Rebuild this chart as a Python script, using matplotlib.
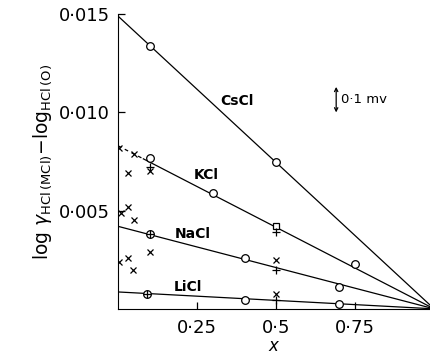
import numpy as np
import matplotlib
matplotlib.use("Agg")
import matplotlib.pyplot as plt

# fitted lines: intercept at x = 0, all meet at (1, 0)
line_names = ["CsCl", "KCl", "NaCl", "LiCl"]
line_y0 = [0.0149, 0.0083, 0.0042, 0.00086]

# open circles
circ_x = [0.1, 0.5, 0.1, 0.3, 0.75, 0.1, 0.4, 0.7, 0.09, 0.4, 0.7]
circ_y = [0.0134, 0.0075, 0.0077, 0.0059, 0.0023, 0.0038, 0.0026, 0.0011,
          0.00076, 0.00046, 0.00025]

# square
sq_x = [0.5]
sq_y = [0.0042]

# plus signs
plus_x = [0.1, 0.1, 0.09, 0.5, 0.5, 0.5]
plus_y = [0.0072, 0.0038, 0.00076, 0.0039, 0.0020, 0.00046]

# crosses
cross_x = [0.003, 0.05, 0.03, 0.1, 0.01, 0.03, 0.05, 0.1, 0.003, 0.03,
           0.047, 0.5, 0.5]
cross_y = [0.0082, 0.0079, 0.0069, 0.0070, 0.0049, 0.0052, 0.0045, 0.0029,
           0.0024, 0.0026, 0.0020, 0.0025, 0.00076]

xticks = [0.25, 0.5, 0.75]
xtick_labels = ["0·25", "0·5", "0·75"]
yticks = [0.005, 0.010, 0.015]
ytick_labels = ["0·005", "0·010", "0·015"]

# label positions for the lines
lab_x = [0.375, 0.28, 0.235, 0.22]
lab_y = [0.0106, 0.0068, 0.0038, 0.0011]

fig = plt.figure(figsize=(4.31, 3.55), dpi=100)
ax = fig.add_axes([0.274, 0.13, 0.726, 0.83])
ax.set_xlim(0, 0.99)
ax.set_ylim(0, 0.015)

xs = np.array([0.0, 1.0])
for name, y0 in zip(line_names, line_y0):
    if name == "KCl":
        ax.plot([0, 0.08], [y0, y0 * 0.92], 'k--', lw=0.9, dashes=(3, 3))
        ax.plot([0.08, 1.0], [y0 * 0.92, 0], 'k-', lw=0.9)
    else:
        ax.plot(xs, y0 * (1 - xs), 'k-', lw=0.9)

ax.plot(circ_x, circ_y, 'o', mfc='white', mec='k', ms=5.5, mew=0.9)
ax.plot(sq_x, sq_y, 's', mfc='white', mec='k', ms=5, mew=0.9)
ax.plot(plus_x, plus_y, '+', color='k', ms=6, mew=0.9)
ax.plot(cross_x, cross_y, 'x', color='k', ms=4.5, mew=0.9)

for name, lx, ly in zip(line_names, lab_x, lab_y):
    ax.text(lx, ly, name, fontsize=10, fontweight='bold', ha='center', va='center')

# 0.1 mV scale bar
ax.annotate("", xy=(0.69, 0.0100), xytext=(0.69, 0.0113),
            arrowprops=dict(arrowstyle='<->', lw=0.9, color='k',
                            shrinkA=0, shrinkB=0, mutation_scale=6))
ax.text(0.705, 0.01065, "0·1 mv", fontsize=9.5, va='center', ha='left')

ax.spines['top'].set_visible(False)
ax.spines['right'].set_visible(False)
ax.set_xticks(xticks)
ax.set_xticklabels(xtick_labels, fontsize=13)
ax.set_yticks(yticks)
ax.set_yticklabels(ytick_labels, fontsize=13)
ax.tick_params(direction='in', length=5, width=0.9, pad=6)
ax.tick_params(axis='x', pad=7)

ax.set_xlabel(r"$x$", fontsize=12, labelpad=0)
ax.set_ylabel(r"log $\gamma_{\mathrm{HCl\,(MCl)}}$$-\log_{\mathrm{HCl\,(O)}}$",
              fontsize=13.5, labelpad=3)

fig.savefig("out.png", dpi=100)
